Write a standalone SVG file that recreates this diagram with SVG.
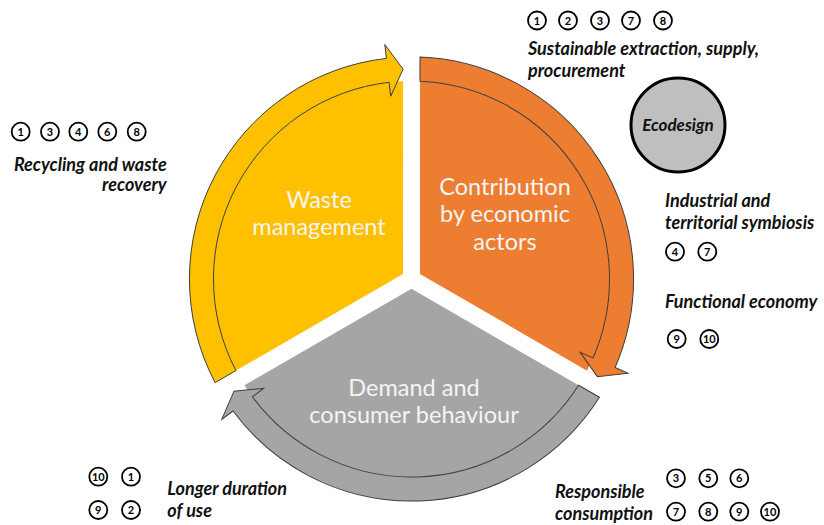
<svg xmlns="http://www.w3.org/2000/svg" width="824" height="525" viewBox="0 0 824 525">
<style>
.lbl{font-family:Lato,"Open Sans","Liberation Sans",sans-serif;font-size:23.5px;fill:#F4F4F4;text-anchor:middle}
.cap{font-family:Lato,"Open Sans","Liberation Sans",sans-serif;font-size:18px;font-weight:bold;font-style:italic;fill:#111}
.band{stroke:#3d3d3d;stroke-width:1;stroke-linejoin:miter}
.nc{fill:#fff;stroke:#000;stroke-width:1.8}
.nt{font-family:Lato,"Liberation Sans",sans-serif;font-size:11px;font-weight:bold;fill:#000;text-anchor:middle}
</style>
<defs>
<path id="body" d="M403,274.1 L235.9,370.6 A198,198 0 0,1 403,81.2 L403.1,69.2 Z"/>
<path id="arrow" d="M215.1,382.6 A222,222 0 0,1 386.4,58.4 L384.8,44.5 L403.1,69.2 L390.7,96.2 L389.1,82.3 A198,198 0 0,0 235.9,370.6 Z"/>
</defs>
<rect width="824" height="525" fill="#fff"/>
<g id="waste-management">
<use href="#body" fill="#FFC000"/>
<text class="lbl" x="319" y="208">Waste</text>
<text class="lbl" x="319" y="235">management</text>
</g>
<g id="contribution">
<use href="#body" fill="#ED7D31" transform="rotate(120 411.5 279)"/>
<text class="lbl" x="505" y="195">Contribution</text>
<text class="lbl" x="505" y="222">by economic</text>
<text class="lbl" x="505" y="250">actors</text>
</g>
<g id="demand">
<use href="#body" fill="#A5A5A5" transform="rotate(240 411.5 279)"/>
<text class="lbl" x="414" y="396">Demand and</text>
<text class="lbl" x="414" y="423">consumer behaviour</text>
</g>
<g id="connectors">
<use href="#arrow" class="band" fill="#FFC000"/>
<use href="#arrow" class="band" fill="#ED7D31" transform="rotate(120 411.5 279)"/>
<use href="#arrow" class="band" fill="#A5A5A5" transform="rotate(240 411.5 279)"/>
</g>
<g id="ecodesign">
<circle cx="678" cy="125" r="47" fill="#BFBFBF" stroke="#000" stroke-width="3"/>
<text class="cap" x="678" y="131" text-anchor="middle" style="font-size:17px">Ecodesign</text>
</g>
<g id="sustainable-extraction">
<circle class="nc" cx="537" cy="20.5" r="9"/><text class="nt" x="537" y="24.5">1</text>
<circle class="nc" cx="568" cy="20.5" r="9"/><text class="nt" x="568" y="24.5">2</text>
<circle class="nc" cx="600" cy="20.5" r="9"/><text class="nt" x="600" y="24.5">3</text>
<circle class="nc" cx="631" cy="20.5" r="9"/><text class="nt" x="631" y="24.5">7</text>
<circle class="nc" cx="663" cy="20.5" r="9"/><text class="nt" x="663" y="24.5">8</text>
<text class="cap" x="528" y="55">Sustainable extraction, supply,</text>
<text class="cap" x="528" y="77">procurement</text>
</g>
<g id="recycling">
<circle class="nc" cx="20.7" cy="131.7" r="9"/><text class="nt" x="20.7" y="135.7">1</text>
<circle class="nc" cx="50" cy="131.7" r="9"/><text class="nt" x="50" y="135.7">3</text>
<circle class="nc" cx="78.3" cy="131.7" r="9"/><text class="nt" x="78.3" y="135.7">4</text>
<circle class="nc" cx="107.3" cy="131.7" r="9"/><text class="nt" x="107.3" y="135.7">6</text>
<circle class="nc" cx="136.7" cy="131.7" r="9"/><text class="nt" x="136.7" y="135.7">8</text>
<text class="cap" x="166.7" y="171" text-anchor="end">Recycling and waste</text>
<text class="cap" x="166.7" y="191" text-anchor="end">recovery</text>
</g>
<g id="industrial-symbiosis">
<text class="cap" x="665" y="206.7">Industrial and</text>
<text class="cap" x="665" y="229.3">territorial symbiosis</text>
<circle class="nc" cx="675" cy="251.7" r="9"/><text class="nt" x="675" y="255.7">4</text>
<circle class="nc" cx="707.3" cy="251.7" r="9"/><text class="nt" x="707.3" y="255.7">7</text>
</g>
<g id="functional-economy">
<text class="cap" x="665" y="308.3">Functional economy</text>
<circle class="nc" cx="676.7" cy="339" r="9"/><text class="nt" x="676.7" y="343">9</text>
<circle class="nc" cx="709.3" cy="339" r="9"/><text class="nt" x="709.3" y="343">10</text>
</g>
<g id="longer-duration">
<circle class="nc" cx="98.3" cy="476.7" r="9"/><text class="nt" x="98.3" y="480.7">10</text>
<circle class="nc" cx="131" cy="476.7" r="9"/><text class="nt" x="131" y="480.7">1</text>
<circle class="nc" cx="98.3" cy="510" r="9"/><text class="nt" x="98.3" y="514">9</text>
<circle class="nc" cx="131" cy="510" r="9"/><text class="nt" x="131" y="514">2</text>
<text class="cap" x="167.3" y="495">Longer duration</text>
<text class="cap" x="167.3" y="517">of use</text>
</g>
<g id="responsible-consumption">
<circle class="nc" cx="676" cy="478.3" r="9"/><text class="nt" x="676" y="482.3">3</text>
<circle class="nc" cx="708.3" cy="478.3" r="9"/><text class="nt" x="708.3" y="482.3">5</text>
<circle class="nc" cx="739.3" cy="478.3" r="9"/><text class="nt" x="739.3" y="482.3">6</text>
<circle class="nc" cx="676" cy="511.7" r="9"/><text class="nt" x="676" y="515.7">7</text>
<circle class="nc" cx="708.3" cy="511.7" r="9"/><text class="nt" x="708.3" y="515.7">8</text>
<circle class="nc" cx="739.3" cy="511.7" r="9"/><text class="nt" x="739.3" y="515.7">9</text>
<circle class="nc" cx="770" cy="511.7" r="9"/><text class="nt" x="770" y="515.7">10</text>
<text class="cap" x="555" y="498.3">Responsible</text>
<text class="cap" x="555" y="520">consumption</text>
</g>
</svg>
